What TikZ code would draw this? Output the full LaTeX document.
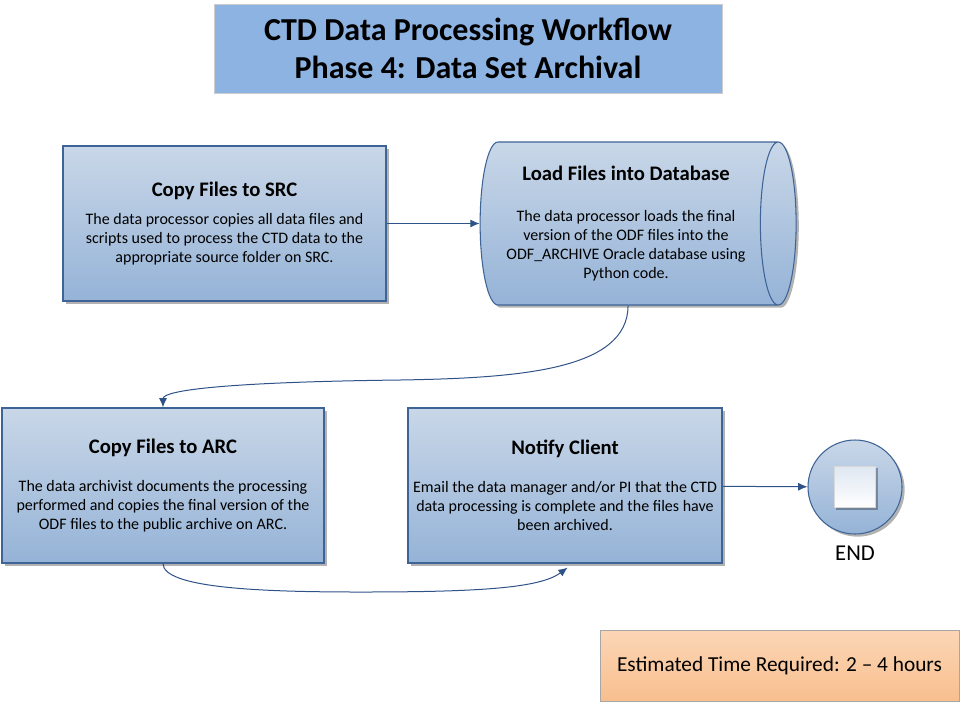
\documentclass[tikz,border=0pt]{standalone}
\usepackage{fontspec}
\setmainfont{Carlito}
\usetikzlibrary{shapes.geometric,shadows,arrows.meta}

\definecolor{boxtop}{HTML}{C9D7E8}
\definecolor{boxbot}{HTML}{95B3D7}
\definecolor{boxline}{HTML}{3E6497}
\definecolor{titlefill}{HTML}{8DB3E2}
\definecolor{timetop}{HTML}{FBD6B6}
\definecolor{timebot}{HTML}{F8BF8E}
\definecolor{flowline}{HTML}{2F5288}

\tikzset{
  stepbox/.style={draw=boxline, line width=0.8pt, top color=boxtop, bottom color=boxbot,
    drop shadow={shadow xshift=2pt, shadow yshift=-2pt, fill=black, opacity=0.3},
    align=center, font=\fontsize{12}{14.25}\selectfont},
  flow/.style={->, draw=flowline, line width=0.75pt},
}
\newcommand{\boxhead}[1]{{\fontsize{15.5}{18}\selectfont\bfseries #1}}

\begin{document}
\begin{tikzpicture}[x=0.75pt, y=-0.75pt, >={Latex[length=7pt,width=6pt]}]
        \useasboundingbox (0,0) rectangle (962,704);
        % Title banner
        \node[draw=black!20, fill=titlefill, minimum width=381pt, minimum height=66.75pt,
          align=center, font=\fontsize{24}{28.5}\selectfont\bfseries] (title) at (468,48.5)
          {CTD Data Processing Workflow\\Phase 4: Data Set Archival};
        % Steps
        \node[stepbox, minimum width=242.25pt, minimum height=116.25pt] (src) at (224.5,223.5)
          {\boxhead{Copy Files to SRC}\\[7pt]
           The data processor copies all data files and\\
           scripts used to process the CTD data to the\\
           appropriate source folder on SRC.};
        \node[stepbox, cylinder, shape aspect=0.29, minimum width=122.25pt, minimum height=237pt] (db) at (626,223.5)
          {\boxhead{Load Files into Database}\\[16pt]
           The data processor loads the final\\
           version of the ODF files into the\\
           ODF\_ARCHIVE Oracle database using\\
           Python code.};
        \node[stepbox, minimum width=241.5pt, minimum height=116.25pt] (arc) at (163,485.5)
          {\boxhead{Copy Files to ARC}\\[14pt]
           The data archivist documents the processing\\
           performed and copies the final version of the\\
           ODF files to the public archive on ARC.};
        \node[stepbox, minimum width=235.5pt, minimum height=116.25pt] (notify) at (565,485.5)
          {\boxhead{Notify Client}\\[14pt]
           Email the data manager and/or PI that the CTD\\
           data processing is complete and the files have\\
           been archived.};
        % End marker
        \node[stepbox, circle, minimum size=70.5pt] (end) at (855,487) {};
        \node[draw=black!15, top color=boxtop!60, bottom color=white, minimum size=31pt, inner sep=0pt,
          drop shadow={shadow xshift=1.5pt, shadow yshift=-1.5pt, fill=black, opacity=0.3}] (endsq) at (end.center) {};
        \node[font=\fontsize{17}{20}\selectfont] (endlbl) at (855,553) {END};
        % Time estimate
        \node[draw=black!35, top color=timetop, bottom color=timebot, minimum width=269.25pt, minimum height=53.25pt,
          font=\fontsize{16}{19}\selectfont] (time) at (779.5,665.5) {Estimated Time Required: 2 -- 4 hours};
        % Connectors
        \draw[flow] (src) -- (db);
        \draw[flow] ([xshift=1.5pt]db.south) .. controls (628,370) and (520,378) .. (400,380)
          .. controls (230,382) and (163,390) .. (arc.north);
        \draw[flow] (arc.south) .. controls (163,588) and (260,592) .. (360,592)
          .. controls (480,592) and (540,588) .. ([xshift=2pt,yshift=-3pt]notify.south);
        \draw[flow] (notify) -- (end);
    \end{tikzpicture}
\end{document}
